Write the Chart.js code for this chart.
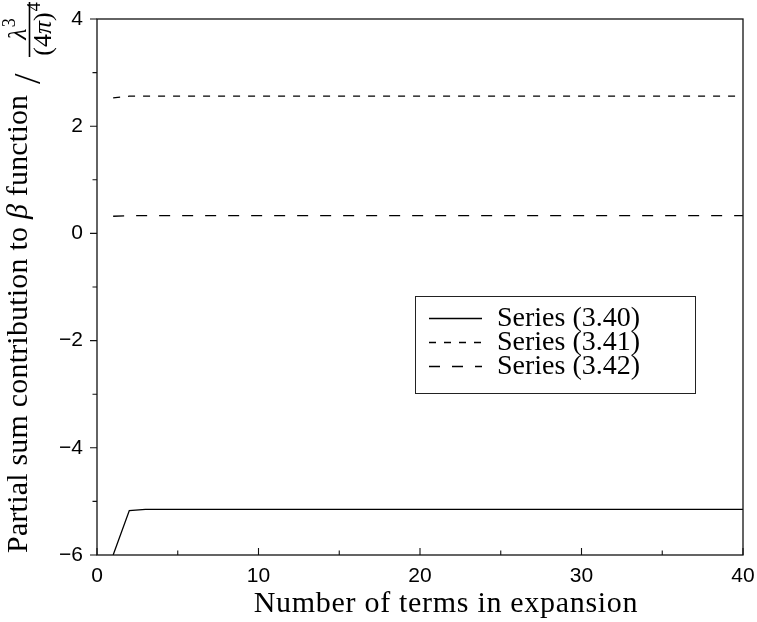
<!DOCTYPE html>
<html><head><meta charset="utf-8">
<script src="https://cdn.jsdelivr.net/npm/chart.js@4"></script>
<style>html,body{margin:0;padding:0;background:#fff}#wrap{width:757px;height:622px}</style>
</head><body><div id="wrap"><canvas id="c" width="757" height="622"></canvas></div>
<script>
// ---- data ----
const terms = [1,2,3,4,5,6,7,8,9,10,11,12,13,14,15,16,17,18,19,20,21,22,23,24,25,26,27,28,29,30,31,32,33,34,35,36,37,38,39,40];
const series340 = [-6.00,-5.17,-5.15,-5.15,-5.15,-5.15,-5.15,-5.15,-5.15,-5.15,-5.15,-5.15,-5.15,-5.15,-5.15,-5.15,-5.15,-5.15,-5.15,-5.15,-5.15,-5.15,-5.15,-5.15,-5.15,-5.15,-5.15,-5.15,-5.15,-5.15,-5.15,-5.15,-5.15,-5.15,-5.15,-5.15,-5.15,-5.15,-5.15,-5.15];
const series341 = [2.53,2.56,2.56,2.56,2.56,2.56,2.56,2.56,2.56,2.56,2.56,2.56,2.56,2.56,2.56,2.56,2.56,2.56,2.56,2.56,2.56,2.56,2.56,2.56,2.56,2.56,2.56,2.56,2.56,2.56,2.56,2.56,2.56,2.56,2.56,2.56,2.56,2.56,2.56,2.56];
const series342 = [0.32,0.33,0.33,0.33,0.33,0.33,0.33,0.33,0.33,0.33,0.33,0.33,0.33,0.33,0.33,0.33,0.33,0.33,0.33,0.33,0.33,0.33,0.33,0.33,0.33,0.33,0.33,0.33,0.33,0.33,0.33,0.33,0.33,0.33,0.33,0.33,0.33,0.33,0.33,0.33];
const seriesLabels = ['Series (3.40)','Series (3.41)','Series (3.42)'];
const xMajorTicks = [0,10,20,30,40];
const xMinorTicks = [5,15,25,35];
const yMajorTicks = [-6,-4,-2,0,2,4];
const yMinorTicks = [-5,-3,-1,1,3];
const xTitle = 'Number of terms in expansion';
const yTitleA = 'Partial sum contribution to ';
const yTitleB = '\u03B2';
const yTitleC = ' function';

const SERIF = '"Liberation Serif", "DejaVu Serif", serif';
const SANS = '"Liberation Sans", Arial, sans-serif';
const INK = '#111';

const toPts = arr => arr.map((v, i) => ({x: terms[i], y: v}));

const decor = {
  id: 'decor',
  afterDatasetsDraw(chart) {
    const ctx = chart.ctx;
    const a = chart.chartArea;
    const xs = chart.scales.x, ys = chart.scales.y;
    ctx.save();
    // frame
    ctx.strokeStyle = INK; ctx.lineWidth = 1.3; ctx.setLineDash([]);
    ctx.strokeRect(a.left, a.top, a.right - a.left, a.bottom - a.top);
    // x ticks (inward)
    ctx.lineWidth = 1.1;
    ctx.beginPath();
    xMajorTicks.forEach(v => { const p = xs.getPixelForValue(v); ctx.moveTo(p, a.bottom); ctx.lineTo(p, a.bottom - 7); });
    xMinorTicks.forEach(v => { const p = xs.getPixelForValue(v); ctx.moveTo(p, a.bottom); ctx.lineTo(p, a.bottom - 4.5); });
    // y ticks (outward)
    yMajorTicks.forEach(v => { const p = ys.getPixelForValue(v); ctx.moveTo(a.left, p); ctx.lineTo(a.left - 7, p); });
    yMinorTicks.forEach(v => { const p = ys.getPixelForValue(v); ctx.moveTo(a.left, p); ctx.lineTo(a.left - 4.5, p); });
    ctx.stroke();

    // legend
    ctx.lineWidth = 1; ctx.strokeStyle = '#222';
    ctx.strokeRect(415.5, 296.5, 280, 97);
    chart.data.datasets.forEach((ds, i) => {
      const y = 318.5 + i * 24;
      ctx.strokeStyle = ds.borderColor; ctx.lineWidth = ds.borderWidth;
      ctx.setLineDash(ds.borderDash || []);
      ctx.beginPath(); ctx.moveTo(429, y); ctx.lineTo(482, y); ctx.stroke();
      ctx.setLineDash([]);
      ctx.fillStyle = '#000'; ctx.font = '28px ' + SERIF;
      ctx.textAlign = 'left'; ctx.textBaseline = 'alphabetic';
      ctx.fillText(ds.label, 497, y + 7);
    });

    // x title
    ctx.fillStyle = '#000'; ctx.font = '30px ' + SERIF;
    ctx.letterSpacing = '0.7px';
    ctx.textAlign = 'center'; ctx.textBaseline = 'alphabetic';
    ctx.fillText(xTitle, 446, 612);

    // y title
    ctx.save();
    ctx.translate(27, 553); ctx.rotate(-Math.PI / 2);
    ctx.textAlign = 'left';
    ctx.letterSpacing = '0.2px';
    ctx.font = '30px ' + SERIF;
    let u = 0;
    ctx.fillText(yTitleA, u, 0); u += ctx.measureText(yTitleA).width;
    ctx.font = 'italic 30px ' + SERIF;
    ctx.fillText(yTitleB, u, 0); u += ctx.measureText(yTitleB).width;
    ctx.font = '30px ' + SERIF;
    ctx.fillText(yTitleC, u, 0); u += ctx.measureText(yTitleC).width;
    ctx.letterSpacing = '0px';
    // big slash
    ctx.font = '38px ' + SERIF;
    ctx.fillText('/', 553 - 84, 13);
    ctx.restore();

    // fraction  lambda^3 / (4 pi)^4
    ctx.save();
    ctx.letterSpacing = '0px';
    ctx.translate(29.5, 57); ctx.rotate(-Math.PI / 2);
    ctx.strokeStyle = '#000'; ctx.lineWidth = 1.6;
    ctx.beginPath(); ctx.moveTo(0, 0); ctx.lineTo(55, 0); ctx.stroke();
    ctx.textAlign = 'left';
    // numerator
    ctx.font = 'italic 26px ' + SERIF;
    const wl = ctx.measureText('\u03BB').width;
    ctx.font = '18px ' + SERIF;
    const w3 = ctx.measureText('3').width;
    let s = 27.5 - (wl + w3) / 2;
    ctx.font = 'italic 26px ' + SERIF; ctx.fillText('\u03BB', s, -4);
    ctx.font = '18px ' + SERIF; ctx.fillText('3', s + wl + 1, -15);
    // denominator
    ctx.font = '26px ' + SERIF;
    const wa = ctx.measureText('(4').width;
    ctx.font = 'italic 26px ' + SERIF;
    const wp = ctx.measureText('\u03C0').width;
    ctx.font = '26px ' + SERIF;
    const wb = ctx.measureText(')').width;
    ctx.font = '18px ' + SERIF;
    const w4 = ctx.measureText('4').width;
    s = 27.5 - (wa + wp + wb + w4) / 2;
    ctx.font = '26px ' + SERIF; ctx.fillText('(4', s, 21);
    ctx.font = 'italic 26px ' + SERIF; ctx.fillText('\u03C0', s + wa, 21);
    ctx.font = '26px ' + SERIF; ctx.fillText(')', s + wa + wp, 21);
    ctx.font = '18px ' + SERIF; ctx.fillText('4', s + wa + wp + wb + 1, 10);
    ctx.restore();

    ctx.restore();
  }
};

function noPad(scale) {
  scale.paddingLeft = 0; scale.paddingRight = 0; scale.paddingTop = 0; scale.paddingBottom = 0;
}

new Chart(document.getElementById('c'), {
  type: 'line',
  data: {
    datasets: [
      {label: seriesLabels[0], data: toPts(series340), borderColor: '#000', borderWidth: 1.3, pointRadius: 0, fill: false, tension: 0},
      {label: seriesLabels[1], data: toPts(series341), borderColor: '#000', borderWidth: 1.3, borderDash: [7, 8], pointRadius: 0, fill: false, tension: 0},
      {label: seriesLabels[2], data: toPts(series342), borderColor: '#000', borderWidth: 1.3, borderDash: [11, 12], pointRadius: 0, fill: false, tension: 0}
    ]
  },
  options: {
    responsive: false, animation: false, devicePixelRatio: 1,
    layout: {padding: {top: 19, right: 14, left: 0, bottom: 0}},
    plugins: {legend: {display: false}, tooltip: {enabled: false}, title: {display: false}},
    scales: {
      x: {
        type: 'linear', min: 0, max: 40,
        afterFit(scale) { scale.height = 67; noPad(scale); },
        afterBuildTicks(scale) { scale.ticks = xMajorTicks.map(v => ({value: v})); },
        grid: {display: false, drawTicks: false}, border: {display: false},
        ticks: {padding: 9, color: '#000', font: {family: SANS, size: 21}, maxRotation: 0, autoSkip: false}
      },
      y: {
        type: 'linear', min: -6, max: 4,
        afterFit(scale) { scale.width = 97; noPad(scale); },
        afterBuildTicks(scale) { scale.ticks = yMajorTicks.map(v => ({value: v})); },
        grid: {display: false, drawTicks: false}, border: {display: false},
        ticks: {padding: 14, color: '#000', font: {family: SANS, size: 21},
          callback: v => String(v).replace('-', '\u2212')}
      }
    }
  },
  plugins: [decor]
});
</script>
</body></html>
